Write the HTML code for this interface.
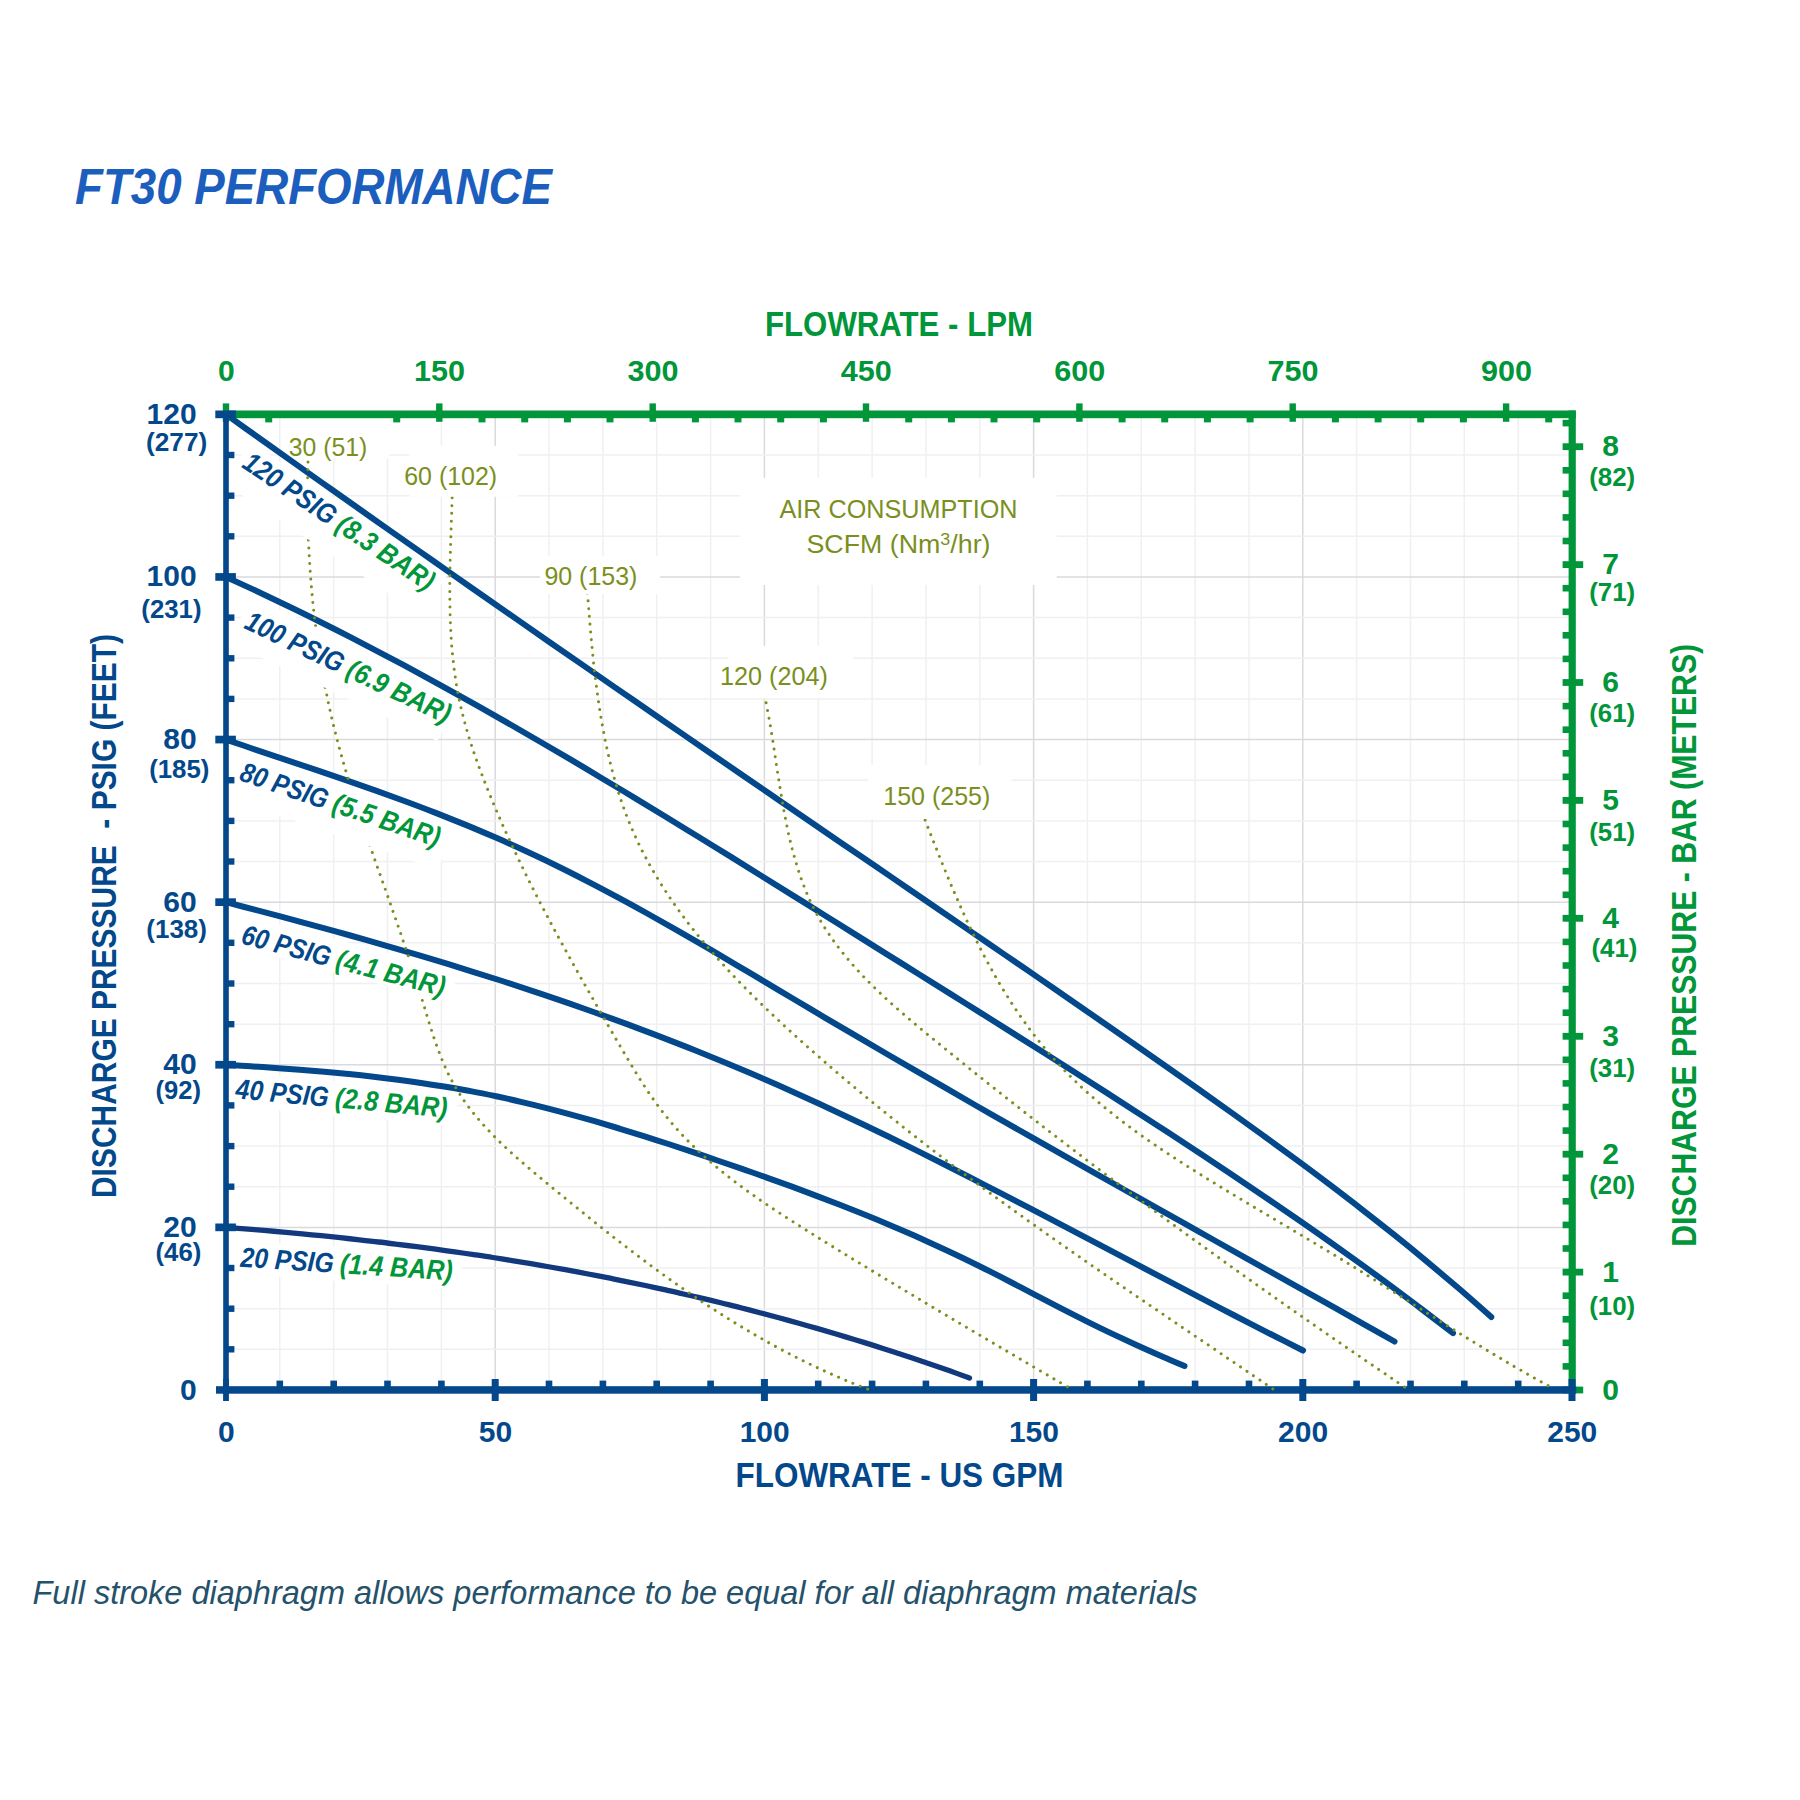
<!DOCTYPE html>
<html lang="en">
<head>
<meta charset="utf-8">
<title>FT30 Performance</title>
<style>
html,body{margin:0;padding:0;background:#fff;}
body{width:1800px;height:1800px;overflow:hidden;}
svg{display:block;font-family:'Liberation Sans', sans-serif;}
</style>
</head>
<body>
<svg width="1800" height="1800" viewBox="0 0 1800 1800">
<rect width="1800" height="1800" fill="#fff"/>
<g fill="none" stroke-width="1.5">
<line x1="279.8" y1="414.4" x2="279.8" y2="1390.0" stroke="#f0f0f2"/>
<line x1="333.7" y1="414.4" x2="333.7" y2="1390.0" stroke="#f0f0f2"/>
<line x1="387.5" y1="414.4" x2="387.5" y2="1390.0" stroke="#f0f0f2"/>
<line x1="441.4" y1="414.4" x2="441.4" y2="1390.0" stroke="#f0f0f2"/>
<line x1="495.2" y1="414.4" x2="495.2" y2="1390.0" stroke="#dadade"/>
<line x1="549.0" y1="414.4" x2="549.0" y2="1390.0" stroke="#f0f0f2"/>
<line x1="602.9" y1="414.4" x2="602.9" y2="1390.0" stroke="#f0f0f2"/>
<line x1="656.7" y1="414.4" x2="656.7" y2="1390.0" stroke="#f0f0f2"/>
<line x1="710.6" y1="414.4" x2="710.6" y2="1390.0" stroke="#f0f0f2"/>
<line x1="764.4" y1="414.4" x2="764.4" y2="1390.0" stroke="#dadade"/>
<line x1="818.2" y1="414.4" x2="818.2" y2="1390.0" stroke="#f0f0f2"/>
<line x1="872.1" y1="414.4" x2="872.1" y2="1390.0" stroke="#f0f0f2"/>
<line x1="925.9" y1="414.4" x2="925.9" y2="1390.0" stroke="#f0f0f2"/>
<line x1="979.8" y1="414.4" x2="979.8" y2="1390.0" stroke="#f0f0f2"/>
<line x1="1033.6" y1="414.4" x2="1033.6" y2="1390.0" stroke="#dadade"/>
<line x1="1087.4" y1="414.4" x2="1087.4" y2="1390.0" stroke="#f0f0f2"/>
<line x1="1141.3" y1="414.4" x2="1141.3" y2="1390.0" stroke="#f0f0f2"/>
<line x1="1195.1" y1="414.4" x2="1195.1" y2="1390.0" stroke="#f0f0f2"/>
<line x1="1249.0" y1="414.4" x2="1249.0" y2="1390.0" stroke="#f0f0f2"/>
<line x1="1302.8" y1="414.4" x2="1302.8" y2="1390.0" stroke="#dadade"/>
<line x1="1356.6" y1="414.4" x2="1356.6" y2="1390.0" stroke="#f0f0f2"/>
<line x1="1410.5" y1="414.4" x2="1410.5" y2="1390.0" stroke="#f0f0f2"/>
<line x1="1464.3" y1="414.4" x2="1464.3" y2="1390.0" stroke="#f0f0f2"/>
<line x1="1518.2" y1="414.4" x2="1518.2" y2="1390.0" stroke="#f0f0f2"/>
<line x1="226.0" y1="1349.3" x2="1572.0" y2="1349.3" stroke="#f0f0f2"/>
<line x1="226.0" y1="1308.7" x2="1572.0" y2="1308.7" stroke="#f0f0f2"/>
<line x1="226.0" y1="1268.0" x2="1572.0" y2="1268.0" stroke="#f0f0f2"/>
<line x1="226.0" y1="1227.4" x2="1572.0" y2="1227.4" stroke="#dadade"/>
<line x1="226.0" y1="1186.8" x2="1572.0" y2="1186.8" stroke="#f0f0f2"/>
<line x1="226.0" y1="1146.1" x2="1572.0" y2="1146.1" stroke="#f0f0f2"/>
<line x1="226.0" y1="1105.5" x2="1572.0" y2="1105.5" stroke="#f0f0f2"/>
<line x1="226.0" y1="1064.8" x2="1572.0" y2="1064.8" stroke="#dadade"/>
<line x1="226.0" y1="1024.2" x2="1572.0" y2="1024.2" stroke="#f0f0f2"/>
<line x1="226.0" y1="983.5" x2="1572.0" y2="983.5" stroke="#f0f0f2"/>
<line x1="226.0" y1="942.8" x2="1572.0" y2="942.8" stroke="#f0f0f2"/>
<line x1="226.0" y1="902.2" x2="1572.0" y2="902.2" stroke="#dadade"/>
<line x1="226.0" y1="861.5" x2="1572.0" y2="861.5" stroke="#f0f0f2"/>
<line x1="226.0" y1="820.9" x2="1572.0" y2="820.9" stroke="#f0f0f2"/>
<line x1="226.0" y1="780.2" x2="1572.0" y2="780.2" stroke="#f0f0f2"/>
<line x1="226.0" y1="739.6" x2="1572.0" y2="739.6" stroke="#dadade"/>
<line x1="226.0" y1="698.9" x2="1572.0" y2="698.9" stroke="#f0f0f2"/>
<line x1="226.0" y1="658.3" x2="1572.0" y2="658.3" stroke="#f0f0f2"/>
<line x1="226.0" y1="617.6" x2="1572.0" y2="617.6" stroke="#f0f0f2"/>
<line x1="226.0" y1="577.0" x2="1572.0" y2="577.0" stroke="#dadade"/>
<line x1="226.0" y1="536.3" x2="1572.0" y2="536.3" stroke="#f0f0f2"/>
<line x1="226.0" y1="495.7" x2="1572.0" y2="495.7" stroke="#f0f0f2"/>
<line x1="226.0" y1="455.0" x2="1572.0" y2="455.0" stroke="#f0f0f2"/>
</g>
<g fill="#fff">
<rect x="740.0" y="478.0" width="316.7" height="107.0"/>
<rect x="282.0" y="416.0" width="106.8" height="42.3"/>
<rect x="409.5" y="445.8" width="108.5" height="50.9"/>
<rect x="540.0" y="556.0" width="120.0" height="38.0"/>
<rect x="728.0" y="646.0" width="125.0" height="52.0"/>
<rect x="868.0" y="765.0" width="143.7" height="54.0"/>
<rect x="-6" y="-26.0" width="238.0" height="48.8" transform="translate(240.8 466.8) rotate(33.85)"/>
<rect x="-6" y="-32.0" width="230.0" height="51.0" transform="translate(243.0 627.8) rotate(25.40)"/>
<rect x="-6" y="-34.0" width="224.0" height="54.6" transform="translate(238.3 780.0) rotate(18.70)"/>
<rect x="-6" y="-28.0" width="224.0" height="32.0" transform="translate(240.0 943.3) rotate(14.70)"/>
<rect x="-6" y="-26.0" width="228.0" height="34.0" transform="translate(235.0 1098.3) rotate(5.20)"/>
<rect x="-6" y="-26.0" width="228.0" height="34.0" transform="translate(240.0 1266.7) rotate(3.70)"/>
</g>
<g fill="none" stroke-linecap="round" stroke-linejoin="round">
<path d="M226.0 414.4 C231.4 418.3 247.6 429.8 258.4 437.5 C269.3 445.2 280.1 452.9 290.9 460.6 C301.7 468.3 312.5 476.0 323.3 483.6 C334.1 491.3 345.0 498.9 355.8 506.5 C366.6 514.1 377.4 521.8 388.2 529.4 C399.0 537.0 409.8 544.6 420.7 552.1 C431.5 559.7 442.3 567.3 453.1 574.9 C463.9 582.4 474.7 590.0 485.5 597.5 C496.4 605.1 507.2 612.6 518.0 620.1 C528.8 627.6 539.6 635.1 550.4 642.7 C561.3 650.2 572.1 657.7 582.9 665.1 C593.7 672.6 604.5 680.1 615.3 687.6 C626.1 695.1 637.0 702.5 647.8 710.0 C658.6 717.5 669.4 724.9 680.2 732.4 C691.0 739.8 701.8 747.2 712.7 754.7 C723.5 762.1 734.3 769.5 745.1 777.0 C755.9 784.4 766.7 791.8 777.5 799.2 C788.4 806.6 799.2 814.0 810.0 821.4 C820.8 828.9 831.6 836.3 842.4 843.7 C853.2 851.0 864.1 858.4 874.9 865.8 C885.7 873.2 896.5 880.6 907.3 888.0 C918.1 895.4 928.9 902.8 939.8 910.2 C950.6 917.6 961.4 925.0 972.2 932.4 C983.0 939.8 993.8 947.2 1004.6 954.6 C1015.5 962.0 1026.3 969.4 1037.1 976.9 C1047.9 984.3 1058.7 991.8 1069.5 999.2 C1080.3 1006.7 1091.2 1014.2 1102.0 1021.7 C1112.8 1029.2 1123.6 1036.7 1134.4 1044.3 C1145.2 1051.8 1156.0 1059.4 1166.9 1067.0 C1177.7 1074.6 1188.5 1082.2 1199.3 1089.8 C1210.1 1097.5 1220.9 1105.1 1231.8 1112.9 C1242.6 1120.6 1253.4 1128.4 1264.2 1136.2 C1275.0 1144.0 1285.8 1151.9 1296.6 1159.9 C1307.5 1167.9 1318.3 1176.0 1329.1 1184.2 C1339.9 1192.4 1350.7 1200.6 1361.5 1209.1 C1372.3 1217.5 1383.2 1226.0 1394.0 1234.7 C1404.8 1243.3 1415.6 1252.1 1426.4 1261.1 C1437.2 1270.1 1448.0 1279.2 1458.9 1288.5 C1469.7 1297.8 1485.9 1312.2 1491.3 1317.0" stroke="#03488a" stroke-width="6.0"/>
<path d="M226.0 577.0 C231.2 579.4 247.0 586.6 257.5 591.5 C267.9 596.4 278.4 601.4 288.9 606.5 C299.4 611.5 309.9 616.7 320.4 622.0 C330.9 627.2 341.4 632.5 351.8 637.9 C362.3 643.3 372.8 648.8 383.3 654.3 C393.8 659.8 404.3 665.5 414.8 671.1 C425.3 676.8 435.7 682.5 446.2 688.3 C456.7 694.1 467.2 700.0 477.7 705.9 C488.2 711.8 498.7 717.8 509.2 723.8 C519.6 729.8 530.1 735.9 540.6 742.0 C551.1 748.1 561.6 754.2 572.1 760.4 C582.6 766.6 593.1 772.9 603.5 779.2 C614.0 785.4 624.5 791.8 635.0 798.1 C645.5 804.4 656.0 810.8 666.5 817.2 C676.9 823.6 687.4 830.1 697.9 836.5 C708.4 843.0 718.9 849.4 729.4 855.9 C739.9 862.4 750.4 868.9 760.8 875.5 C771.3 882.0 781.8 888.5 792.3 895.1 C802.8 901.6 813.3 908.2 823.8 914.7 C834.3 921.3 844.7 927.8 855.2 934.4 C865.7 940.9 876.2 947.5 886.7 954.1 C897.2 960.6 907.7 967.2 918.2 973.7 C928.6 980.3 939.1 986.8 949.6 993.4 C960.1 1000.0 970.6 1006.5 981.1 1013.1 C991.6 1019.7 1002.1 1026.3 1012.5 1032.9 C1023.0 1039.5 1033.5 1046.1 1044.0 1052.8 C1054.5 1059.4 1065.0 1066.1 1075.5 1072.8 C1085.9 1079.4 1096.4 1086.1 1106.9 1092.9 C1117.4 1099.6 1127.9 1106.4 1138.4 1113.2 C1148.9 1119.9 1159.4 1126.8 1169.8 1133.6 C1180.3 1140.5 1190.8 1147.4 1201.3 1154.3 C1211.8 1161.2 1222.3 1168.2 1232.8 1175.2 C1243.3 1182.2 1253.7 1189.3 1264.2 1196.4 C1274.7 1203.5 1285.2 1210.7 1295.7 1218.0 C1306.2 1225.2 1316.7 1232.6 1327.2 1240.0 C1337.6 1247.4 1348.1 1254.8 1358.6 1262.4 C1369.1 1270.0 1379.6 1277.6 1390.1 1285.4 C1400.6 1293.2 1411.1 1301.0 1421.5 1309.0 C1432.0 1317.0 1447.8 1329.2 1453.0 1333.2" stroke="#03488a" stroke-width="6.0"/>
<path d="M226.0 739.6 C231.0 741.3 246.0 746.4 256.0 749.8 C265.9 753.2 275.9 756.5 285.9 759.9 C295.9 763.2 305.9 766.5 315.9 769.9 C325.9 773.3 335.9 776.7 345.8 780.1 C355.8 783.6 365.8 787.1 375.8 790.6 C385.8 794.2 395.8 797.8 405.8 801.5 C415.8 805.2 425.7 809.0 435.7 812.9 C445.7 816.8 455.7 820.8 465.7 824.9 C475.7 829.0 485.7 833.3 495.7 837.6 C505.6 841.9 515.6 846.4 525.6 851.0 C535.6 855.6 545.6 860.3 555.6 865.2 C565.6 870.1 575.6 875.1 585.5 880.3 C595.5 885.4 605.5 890.7 615.5 896.1 C625.5 901.4 635.5 906.9 645.5 912.5 C655.4 918.0 665.4 923.7 675.4 929.4 C685.4 935.1 695.4 940.9 705.4 946.7 C715.4 952.5 725.4 958.4 735.3 964.3 C745.3 970.2 755.3 976.2 765.3 982.1 C775.3 988.1 785.3 994.0 795.3 1000.0 C805.3 1005.9 815.2 1011.9 825.2 1017.8 C835.2 1023.7 845.2 1029.6 855.2 1035.4 C865.2 1041.3 875.2 1047.2 885.2 1053.0 C895.1 1058.8 905.1 1064.6 915.1 1070.4 C925.1 1076.2 935.1 1082.0 945.1 1087.7 C955.1 1093.5 965.1 1099.2 975.0 1105.0 C985.0 1110.7 995.0 1116.4 1005.0 1122.1 C1015.0 1127.8 1025.0 1133.5 1035.0 1139.2 C1044.9 1144.9 1054.9 1150.5 1064.9 1156.2 C1074.9 1161.8 1084.9 1167.5 1094.9 1173.1 C1104.9 1178.8 1114.9 1184.4 1124.8 1190.0 C1134.8 1195.6 1144.8 1201.3 1154.8 1206.9 C1164.8 1212.5 1174.8 1218.1 1184.8 1223.7 C1194.8 1229.3 1204.7 1234.9 1214.7 1240.5 C1224.7 1246.1 1234.7 1251.7 1244.7 1257.3 C1254.7 1262.9 1264.7 1268.5 1274.7 1274.1 C1284.6 1279.7 1294.6 1285.3 1304.6 1290.9 C1314.6 1296.5 1324.6 1302.1 1334.6 1307.7 C1344.6 1313.3 1354.6 1318.9 1364.5 1324.6 C1374.5 1330.2 1389.5 1338.6 1394.5 1341.5" stroke="#03488a" stroke-width="6.0"/>
<path d="M226.0 902.2 C230.6 903.4 244.4 907.0 253.6 909.4 C262.8 911.8 272.0 914.2 281.2 916.7 C290.4 919.1 299.6 921.6 308.8 924.1 C318.1 926.6 327.3 929.1 336.5 931.6 C345.7 934.2 354.9 936.8 364.1 939.4 C373.3 942.0 382.5 944.6 391.7 947.3 C400.9 950.0 410.1 952.7 419.3 955.4 C428.5 958.1 437.7 960.9 446.9 963.7 C456.1 966.5 465.3 969.4 474.5 972.3 C483.7 975.1 492.9 978.1 502.2 981.0 C511.4 984.0 520.6 987.0 529.8 990.1 C539.0 993.1 548.2 996.2 557.4 999.4 C566.6 1002.5 575.8 1005.7 585.0 1009.0 C594.2 1012.2 603.4 1015.5 612.6 1018.9 C621.8 1022.2 631.0 1025.6 640.2 1029.1 C649.4 1032.5 658.6 1036.0 667.8 1039.6 C677.1 1043.2 686.3 1046.8 695.5 1050.5 C704.7 1054.2 713.9 1057.9 723.1 1061.7 C732.3 1065.5 741.5 1069.4 750.7 1073.3 C759.9 1077.3 769.1 1081.3 778.3 1085.3 C787.5 1089.4 796.7 1093.5 805.9 1097.7 C815.1 1101.9 824.3 1106.2 833.5 1110.4 C842.7 1114.7 851.9 1119.1 861.2 1123.5 C870.4 1127.9 879.6 1132.3 888.8 1136.8 C898.0 1141.3 907.2 1145.8 916.4 1150.4 C925.6 1155.0 934.8 1159.6 944.0 1164.2 C953.2 1168.9 962.4 1173.5 971.6 1178.2 C980.8 1182.9 990.0 1187.7 999.2 1192.4 C1008.4 1197.2 1017.6 1202.0 1026.8 1206.7 C1036.1 1211.5 1045.3 1216.3 1054.5 1221.2 C1063.7 1226.0 1072.9 1230.8 1082.1 1235.6 C1091.3 1240.5 1100.5 1245.3 1109.7 1250.2 C1118.9 1255.0 1128.1 1259.9 1137.3 1264.7 C1146.5 1269.6 1155.7 1274.4 1164.9 1279.2 C1174.1 1284.1 1183.3 1288.9 1192.5 1293.7 C1201.7 1298.5 1210.9 1303.3 1220.2 1308.1 C1229.4 1312.9 1238.6 1317.6 1247.8 1322.4 C1257.0 1327.1 1266.2 1331.8 1275.4 1336.5 C1284.6 1341.2 1298.4 1348.1 1303.0 1350.5" stroke="#03488a" stroke-width="6.0"/>
<path d="M226.0 1064.8 C230.1 1065.1 242.4 1065.8 250.6 1066.3 C258.8 1066.8 267.0 1067.4 275.2 1067.9 C283.3 1068.5 291.5 1069.1 299.7 1069.8 C307.9 1070.4 316.1 1071.1 324.3 1071.8 C332.5 1072.5 340.7 1073.3 348.9 1074.1 C357.1 1074.9 365.3 1075.8 373.5 1076.8 C381.7 1077.7 389.8 1078.7 398.0 1079.8 C406.2 1080.8 414.4 1081.9 422.6 1083.2 C430.8 1084.4 439.0 1085.6 447.2 1087.0 C455.4 1088.4 463.6 1089.8 471.8 1091.4 C480.0 1092.9 488.2 1094.6 496.3 1096.3 C504.5 1098.0 512.7 1099.8 520.9 1101.8 C529.1 1103.7 537.3 1105.7 545.5 1107.8 C553.7 1109.9 561.9 1112.0 570.1 1114.3 C578.3 1116.5 586.5 1118.8 594.7 1121.2 C602.8 1123.6 611.0 1126.0 619.2 1128.5 C627.4 1131.0 635.6 1133.5 643.8 1136.1 C652.0 1138.7 660.2 1141.4 668.4 1144.0 C676.6 1146.7 684.8 1149.4 693.0 1152.2 C701.2 1154.9 709.3 1157.7 717.5 1160.5 C725.7 1163.3 733.9 1166.1 742.1 1168.9 C750.3 1171.8 758.5 1174.6 766.7 1177.6 C774.9 1180.5 783.1 1183.4 791.3 1186.4 C799.5 1189.4 807.7 1192.5 815.8 1195.6 C824.0 1198.7 832.2 1201.8 840.4 1205.0 C848.6 1208.2 856.8 1211.5 865.0 1214.8 C873.2 1218.1 881.4 1221.5 889.6 1225.0 C897.8 1228.4 906.0 1232.0 914.2 1235.6 C922.3 1239.2 930.5 1242.9 938.7 1246.7 C946.9 1250.4 955.1 1254.3 963.3 1258.2 C971.5 1262.2 979.7 1266.2 987.9 1270.4 C996.1 1274.5 1004.3 1278.7 1012.5 1283.0 C1020.7 1287.2 1028.8 1291.5 1037.0 1295.8 C1045.2 1300.1 1053.4 1304.4 1061.6 1308.6 C1069.8 1312.8 1078.0 1317.0 1086.2 1321.1 C1094.4 1325.2 1102.6 1329.2 1110.8 1333.1 C1119.0 1337.0 1127.2 1340.8 1135.3 1344.5 C1143.5 1348.3 1151.7 1351.9 1159.9 1355.5 C1168.1 1359.1 1180.4 1364.2 1184.5 1366.0" stroke="#03488a" stroke-width="6.0"/>
<path d="M226.0 1227.4 C229.2 1227.6 238.7 1228.4 245.1 1228.9 C251.4 1229.4 257.8 1229.9 264.1 1230.4 C270.5 1231.0 276.8 1231.5 283.2 1232.1 C289.5 1232.7 295.9 1233.3 302.3 1233.9 C308.6 1234.5 315.0 1235.1 321.3 1235.7 C327.7 1236.4 334.0 1237.0 340.4 1237.7 C346.7 1238.4 353.1 1239.1 359.4 1239.8 C365.8 1240.5 372.2 1241.2 378.5 1242.0 C384.9 1242.7 391.2 1243.5 397.6 1244.3 C403.9 1245.1 410.3 1245.9 416.6 1246.7 C423.0 1247.5 429.4 1248.4 435.7 1249.2 C442.1 1250.1 448.4 1251.0 454.8 1251.9 C461.1 1252.8 467.5 1253.7 473.8 1254.6 C480.2 1255.6 486.5 1256.6 492.9 1257.5 C499.3 1258.5 505.6 1259.5 512.0 1260.6 C518.3 1261.6 524.7 1262.7 531.0 1263.7 C537.4 1264.8 543.7 1265.9 550.1 1267.0 C556.4 1268.1 562.8 1269.3 569.2 1270.4 C575.5 1271.6 581.9 1272.8 588.2 1274.0 C594.6 1275.2 600.9 1276.4 607.3 1277.7 C613.6 1279.0 620.0 1280.2 626.3 1281.6 C632.7 1282.9 639.1 1284.2 645.4 1285.5 C651.8 1286.9 658.1 1288.3 664.5 1289.7 C670.8 1291.1 677.2 1292.5 683.5 1294.0 C689.9 1295.4 696.2 1296.9 702.6 1298.4 C709.0 1299.9 715.3 1301.4 721.7 1303.0 C728.0 1304.6 734.4 1306.1 740.7 1307.8 C747.1 1309.4 753.4 1311.0 759.8 1312.7 C766.1 1314.3 772.5 1316.0 778.9 1317.7 C785.2 1319.5 791.6 1321.2 797.9 1323.0 C804.3 1324.8 810.6 1326.6 817.0 1328.4 C823.3 1330.2 829.7 1332.1 836.1 1334.0 C842.4 1335.9 848.8 1337.8 855.1 1339.7 C861.5 1341.7 867.8 1343.6 874.2 1345.6 C880.5 1347.6 886.9 1349.7 893.2 1351.7 C899.6 1353.8 906.0 1355.9 912.3 1358.0 C918.7 1360.2 925.0 1362.3 931.4 1364.5 C937.7 1366.7 944.1 1368.9 950.4 1371.1 C956.8 1373.4 966.3 1376.8 969.5 1378.0" stroke="#12397e" stroke-width="5.3"/>
</g>
<g fill="#009639">
<rect x="226.0" y="410.5" width="1349.8" height="7.7"/>
<rect x="1568.6" y="410.5" width="7.2" height="979.5"/>
<rect x="222.8" y="403.4" width="6.4" height="18.4"/>
<rect x="265.2" y="414.4" width="7" height="8"/>
<rect x="393.2" y="414.4" width="7" height="8"/>
<rect x="436.1" y="403.4" width="6.4" height="18.4"/>
<rect x="478.5" y="414.4" width="7" height="8"/>
<rect x="521.2" y="414.4" width="7" height="8"/>
<rect x="563.9" y="414.4" width="7" height="8"/>
<rect x="606.5" y="414.4" width="7" height="8"/>
<rect x="649.5" y="403.4" width="6.4" height="18.4"/>
<rect x="691.9" y="414.4" width="7" height="8"/>
<rect x="734.5" y="414.4" width="7" height="8"/>
<rect x="777.2" y="414.4" width="7" height="8"/>
<rect x="819.9" y="414.4" width="7" height="8"/>
<rect x="862.8" y="403.4" width="6.4" height="18.4"/>
<rect x="905.2" y="414.4" width="7" height="8"/>
<rect x="947.9" y="414.4" width="7" height="8"/>
<rect x="990.5" y="414.4" width="7" height="8"/>
<rect x="1033.2" y="414.4" width="7" height="8"/>
<rect x="1076.2" y="403.4" width="6.4" height="18.4"/>
<rect x="1118.6" y="414.4" width="7" height="8"/>
<rect x="1161.2" y="414.4" width="7" height="8"/>
<rect x="1203.9" y="414.4" width="7" height="8"/>
<rect x="1246.6" y="414.4" width="7" height="8"/>
<rect x="1289.5" y="403.4" width="6.4" height="18.4"/>
<rect x="1331.9" y="414.4" width="7" height="8"/>
<rect x="1374.6" y="414.4" width="7" height="8"/>
<rect x="1417.2" y="414.4" width="7" height="8"/>
<rect x="1459.9" y="414.4" width="7" height="8"/>
<rect x="1502.9" y="403.4" width="6.4" height="18.4"/>
<rect x="1545.2" y="414.4" width="7" height="8"/>
<rect x="1562.6" y="1386.6" width="20.6" height="6.8"/>
<rect x="1562.6" y="1363.1" width="9.4" height="6.6"/>
<rect x="1562.6" y="1339.5" width="9.4" height="6.6"/>
<rect x="1562.6" y="1316.0" width="9.4" height="6.6"/>
<rect x="1562.6" y="1292.4" width="9.4" height="6.6"/>
<rect x="1562.6" y="1268.7" width="20.6" height="6.8"/>
<rect x="1562.6" y="1245.2" width="9.4" height="6.6"/>
<rect x="1562.6" y="1221.6" width="9.4" height="6.6"/>
<rect x="1562.6" y="1198.0" width="9.4" height="6.6"/>
<rect x="1562.6" y="1174.5" width="9.4" height="6.6"/>
<rect x="1562.6" y="1150.8" width="20.6" height="6.8"/>
<rect x="1562.6" y="1127.3" width="9.4" height="6.6"/>
<rect x="1562.6" y="1103.7" width="9.4" height="6.6"/>
<rect x="1562.6" y="1080.1" width="9.4" height="6.6"/>
<rect x="1562.6" y="1056.5" width="9.4" height="6.6"/>
<rect x="1562.6" y="1032.9" width="20.6" height="6.8"/>
<rect x="1562.6" y="1009.4" width="9.4" height="6.6"/>
<rect x="1562.6" y="985.8" width="9.4" height="6.6"/>
<rect x="1562.6" y="962.2" width="9.4" height="6.6"/>
<rect x="1562.6" y="938.6" width="9.4" height="6.6"/>
<rect x="1562.6" y="914.9" width="20.6" height="6.8"/>
<rect x="1562.6" y="891.5" width="9.4" height="6.6"/>
<rect x="1562.6" y="867.9" width="9.4" height="6.6"/>
<rect x="1562.6" y="844.3" width="9.4" height="6.6"/>
<rect x="1562.6" y="820.7" width="9.4" height="6.6"/>
<rect x="1562.6" y="797.0" width="20.6" height="6.8"/>
<rect x="1562.6" y="773.5" width="9.4" height="6.6"/>
<rect x="1562.6" y="750.0" width="9.4" height="6.6"/>
<rect x="1562.6" y="726.4" width="9.4" height="6.6"/>
<rect x="1562.6" y="702.8" width="9.4" height="6.6"/>
<rect x="1562.6" y="679.1" width="20.6" height="6.8"/>
<rect x="1562.6" y="655.6" width="9.4" height="6.6"/>
<rect x="1562.6" y="632.0" width="9.4" height="6.6"/>
<rect x="1562.6" y="608.5" width="9.4" height="6.6"/>
<rect x="1562.6" y="584.9" width="9.4" height="6.6"/>
<rect x="1562.6" y="561.2" width="20.6" height="6.8"/>
<rect x="1562.6" y="537.7" width="9.4" height="6.6"/>
<rect x="1562.6" y="514.1" width="9.4" height="6.6"/>
<rect x="1562.6" y="490.5" width="9.4" height="6.6"/>
<rect x="1562.6" y="467.0" width="9.4" height="6.6"/>
<rect x="1562.6" y="443.3" width="20.6" height="6.8"/>
<rect x="1562.6" y="419.8" width="9.4" height="6.6"/>
</g>
<g fill="#03488a">
<rect x="223.2" y="410.8" width="5.6" height="982.8"/>
<rect x="216.0" y="1386.2" width="1360.2" height="7.5"/>
<rect x="226.0" y="1346.1" width="8.4" height="6.4"/>
<rect x="226.0" y="1305.5" width="8.4" height="6.4"/>
<rect x="226.0" y="1264.8" width="8.4" height="6.4"/>
<rect x="215.3" y="1223.5" width="20.6" height="7.7"/>
<rect x="226.0" y="1183.5" width="8.4" height="6.4"/>
<rect x="226.0" y="1142.9" width="8.4" height="6.4"/>
<rect x="226.0" y="1102.2" width="8.4" height="6.4"/>
<rect x="215.3" y="1060.9" width="20.6" height="7.7"/>
<rect x="226.0" y="1021.0" width="8.4" height="6.4"/>
<rect x="226.0" y="980.3" width="8.4" height="6.4"/>
<rect x="226.0" y="939.6" width="8.4" height="6.4"/>
<rect x="215.3" y="898.3" width="20.6" height="7.7"/>
<rect x="226.0" y="858.3" width="8.4" height="6.4"/>
<rect x="226.0" y="817.7" width="8.4" height="6.4"/>
<rect x="226.0" y="777.0" width="8.4" height="6.4"/>
<rect x="215.3" y="735.7" width="20.6" height="7.7"/>
<rect x="226.0" y="695.7" width="8.4" height="6.4"/>
<rect x="226.0" y="655.1" width="8.4" height="6.4"/>
<rect x="226.0" y="614.4" width="8.4" height="6.4"/>
<rect x="215.3" y="573.1" width="20.6" height="7.7"/>
<rect x="226.0" y="533.1" width="8.4" height="6.4"/>
<rect x="226.0" y="492.5" width="8.4" height="6.4"/>
<rect x="226.0" y="451.8" width="8.4" height="6.4"/>
<rect x="215.3" y="410.5" width="20.6" height="7.7"/>
<rect x="223.1" y="1379.0" width="5.8" height="22"/>
<rect x="276.5" y="1380.6" width="6.6" height="9.4"/>
<rect x="330.4" y="1380.6" width="6.6" height="9.4"/>
<rect x="384.2" y="1380.6" width="6.6" height="9.4"/>
<rect x="438.1" y="1380.6" width="6.6" height="9.4"/>
<rect x="491.7" y="1379.0" width="7" height="22"/>
<rect x="545.7" y="1380.6" width="6.6" height="9.4"/>
<rect x="599.6" y="1380.6" width="6.6" height="9.4"/>
<rect x="653.4" y="1380.6" width="6.6" height="9.4"/>
<rect x="707.3" y="1380.6" width="6.6" height="9.4"/>
<rect x="760.9" y="1379.0" width="7" height="22"/>
<rect x="814.9" y="1380.6" width="6.6" height="9.4"/>
<rect x="868.8" y="1380.6" width="6.6" height="9.4"/>
<rect x="922.6" y="1380.6" width="6.6" height="9.4"/>
<rect x="976.5" y="1380.6" width="6.6" height="9.4"/>
<rect x="1030.1" y="1379.0" width="7" height="22"/>
<rect x="1084.1" y="1380.6" width="6.6" height="9.4"/>
<rect x="1138.0" y="1380.6" width="6.6" height="9.4"/>
<rect x="1191.8" y="1380.6" width="6.6" height="9.4"/>
<rect x="1245.7" y="1380.6" width="6.6" height="9.4"/>
<rect x="1299.3" y="1379.0" width="7" height="22"/>
<rect x="1353.3" y="1380.6" width="6.6" height="9.4"/>
<rect x="1407.2" y="1380.6" width="6.6" height="9.4"/>
<rect x="1461.0" y="1380.6" width="6.6" height="9.4"/>
<rect x="1514.9" y="1380.6" width="6.6" height="9.4"/>
<rect x="1568.5" y="1379.0" width="7" height="22"/>
</g>
<mask id="lm" maskUnits="userSpaceOnUse" x="0" y="0" width="1800" height="1800"><rect width="1800" height="1800" fill="#fff"/><g fill="#000">
<rect x="740.0" y="478.0" width="316.7" height="107.0"/>
<rect x="282.0" y="416.0" width="106.8" height="42.3"/>
<rect x="409.5" y="445.8" width="108.5" height="50.9"/>
<rect x="540.0" y="556.0" width="120.0" height="38.0"/>
<rect x="728.0" y="646.0" width="125.0" height="52.0"/>
<rect x="868.0" y="765.0" width="143.7" height="54.0"/>
<rect x="-6" y="-26.0" width="238.0" height="48.8" transform="translate(240.8 466.8) rotate(33.85)"/>
<rect x="-6" y="-32.0" width="230.0" height="51.0" transform="translate(243.0 627.8) rotate(25.40)"/>
<rect x="-6" y="-34.0" width="224.0" height="54.6" transform="translate(238.3 780.0) rotate(18.70)"/>
<rect x="-6" y="-28.0" width="224.0" height="32.0" transform="translate(240.0 943.3) rotate(14.70)"/>
<rect x="-6" y="-26.0" width="228.0" height="34.0" transform="translate(235.0 1098.3) rotate(5.20)"/>
<rect x="-6" y="-26.0" width="228.0" height="34.0" transform="translate(240.0 1266.7) rotate(3.70)"/>
</g></mask>
<g fill="none" stroke="#7a8f1e" stroke-width="3" stroke-dasharray="0.01 7.8" stroke-linecap="round" mask="url(#lm)">
<path d="M308.0 462.0 C308.0 465.3 307.7 475.1 307.6 481.7 C307.6 488.3 307.6 494.9 307.6 501.5 C307.6 508.1 307.7 514.7 307.9 521.3 C308.0 527.9 308.3 534.5 308.5 541.1 C308.8 547.7 309.1 554.3 309.5 560.9 C309.9 567.5 310.4 574.1 310.9 580.7 C311.4 587.3 312.0 593.8 312.6 600.4 C313.3 607.0 314.0 613.5 314.8 620.1 C315.6 626.6 316.4 633.2 317.3 639.7 C318.2 646.2 319.2 652.7 320.3 659.2 C321.3 665.7 322.4 672.2 323.6 678.7 C324.8 685.2 326.1 691.6 327.4 698.1 C328.7 704.5 330.2 710.9 331.6 717.3 C333.1 723.7 334.7 730.1 336.3 736.5 C337.9 742.8 339.6 749.2 341.4 755.5 C343.1 761.8 345.0 768.1 346.8 774.4 C348.7 780.7 350.6 787.0 352.6 793.3 C354.6 799.6 356.6 805.8 358.6 812.1 C360.7 818.3 362.8 824.6 364.9 830.8 C367.0 837.1 369.1 843.3 371.3 849.5 C373.4 855.8 375.6 862.0 377.8 868.2 C380.0 874.4 382.2 880.7 384.4 886.9 C386.6 893.1 388.8 899.3 391.0 905.6 C393.1 911.8 395.3 918.1 397.5 924.3 C399.7 930.6 401.8 936.8 403.9 943.1 C406.1 949.4 408.2 955.6 410.2 961.9 C412.3 968.2 414.3 974.5 416.3 980.9 C418.3 987.2 420.2 993.5 422.2 999.9 C424.1 1006.2 426.0 1012.6 427.9 1018.9 C429.9 1025.2 431.8 1031.5 433.9 1037.7 C436.1 1043.9 438.2 1050.1 440.6 1056.1 C443.0 1062.1 445.5 1068.1 448.4 1073.9 C451.2 1079.6 454.2 1085.3 457.6 1090.8 C460.9 1096.2 464.6 1101.5 468.4 1106.7 C472.3 1111.9 476.4 1116.9 480.7 1121.8 C485.0 1126.7 489.5 1131.5 494.1 1136.2 C498.7 1140.9 503.5 1145.5 508.4 1150.0 C513.3 1154.6 518.3 1159.0 523.4 1163.4 C528.4 1167.8 533.6 1172.1 538.7 1176.4 C543.9 1180.7 549.1 1185.0 554.2 1189.3 C559.4 1193.5 564.6 1197.8 569.8 1202.0 C574.9 1206.2 580.1 1210.4 585.3 1214.6 C590.5 1218.8 595.6 1223.0 600.8 1227.1 C606.0 1231.2 611.2 1235.3 616.4 1239.4 C621.6 1243.4 626.9 1247.5 632.1 1251.5 C637.3 1255.5 642.6 1259.4 647.9 1263.4 C653.1 1267.3 658.4 1271.2 663.7 1275.0 C669.0 1278.9 674.4 1282.7 679.7 1286.4 C685.1 1290.2 690.5 1293.9 695.9 1297.6 C701.3 1301.3 706.7 1304.9 712.2 1308.5 C717.7 1312.0 723.2 1315.5 728.7 1319.0 C734.3 1322.5 739.9 1325.9 745.5 1329.2 C751.1 1332.6 756.8 1335.9 762.5 1339.1 C768.2 1342.4 773.9 1345.5 779.7 1348.7 C785.5 1351.8 791.3 1354.8 797.2 1357.8 C803.1 1360.8 809.0 1363.7 815.0 1366.5 C821.0 1369.4 827.0 1372.1 833.1 1374.8 C839.2 1377.5 845.3 1380.2 851.5 1382.7 C857.7 1385.3 867.2 1388.9 870.3 1390.1"/>
<path d="M452.4 489.9 C452.3 493.2 452.0 503.0 451.8 509.6 C451.6 516.2 451.3 522.9 451.1 529.5 C450.9 536.1 450.7 542.8 450.5 549.4 C450.3 556.1 450.1 562.8 450.0 569.4 C449.9 576.1 449.8 582.8 449.8 589.5 C449.8 596.1 449.8 602.8 450.0 609.5 C450.1 616.1 450.3 622.8 450.7 629.4 C451.0 636.0 451.4 642.7 452.0 649.3 C452.6 655.8 453.3 662.4 454.1 669.0 C455.0 675.5 455.9 682.0 457.1 688.5 C458.2 694.9 459.6 701.4 461.0 707.8 C462.5 714.2 464.2 720.5 465.9 726.9 C467.7 733.2 469.6 739.5 471.6 745.7 C473.7 752.0 475.8 758.2 478.1 764.4 C480.3 770.6 482.6 776.8 485.1 782.9 C487.5 789.1 490.0 795.2 492.5 801.3 C495.0 807.4 497.6 813.5 500.3 819.5 C502.9 825.6 505.6 831.6 508.4 837.6 C511.1 843.6 513.9 849.6 516.8 855.6 C519.6 861.6 522.5 867.5 525.4 873.5 C528.3 879.4 531.3 885.4 534.3 891.3 C537.3 897.2 540.3 903.1 543.4 908.9 C546.5 914.8 549.6 920.7 552.7 926.5 C555.8 932.4 559.0 938.2 562.2 944.1 C565.4 949.9 568.6 955.7 571.8 961.5 C575.0 967.3 578.3 973.1 581.5 978.9 C584.8 984.7 588.1 990.5 591.4 996.3 C594.7 1002.0 598.0 1007.8 601.3 1013.6 C604.6 1019.3 607.9 1025.1 611.3 1030.8 C614.6 1036.6 617.9 1042.4 621.3 1048.1 C624.6 1053.8 628.0 1059.6 631.4 1065.2 C634.8 1070.9 638.3 1076.6 641.8 1082.1 C645.4 1087.7 649.0 1093.2 652.8 1098.5 C656.6 1103.9 660.4 1109.2 664.5 1114.3 C668.5 1119.4 672.7 1124.4 677.0 1129.2 C681.4 1134.1 685.9 1138.8 690.5 1143.4 C695.1 1148.0 699.8 1152.4 704.7 1156.8 C709.6 1161.2 714.5 1165.4 719.6 1169.6 C724.7 1173.8 729.8 1177.9 735.1 1181.9 C740.3 1185.9 745.7 1189.8 751.1 1193.6 C756.4 1197.5 761.9 1201.2 767.4 1205.0 C772.9 1208.7 778.5 1212.4 784.1 1216.0 C789.7 1219.7 795.3 1223.2 800.9 1226.8 C806.6 1230.4 812.2 1233.9 817.9 1237.5 C823.6 1241.0 829.2 1244.5 834.9 1248.0 C840.6 1251.5 846.2 1255.0 851.9 1258.5 C857.6 1261.9 863.2 1265.4 868.9 1268.8 C874.6 1272.3 880.2 1275.7 885.9 1279.2 C891.6 1282.6 897.3 1286.0 902.9 1289.4 C908.6 1292.8 914.3 1296.2 920.0 1299.6 C925.6 1303.0 931.3 1306.4 937.0 1309.8 C942.7 1313.2 948.4 1316.6 954.1 1320.0 C959.7 1323.3 965.4 1326.7 971.1 1330.1 C976.8 1333.4 982.5 1336.8 988.2 1340.1 C993.9 1343.5 999.6 1346.9 1005.3 1350.2 C1011.0 1353.6 1016.7 1356.9 1022.3 1360.3 C1028.0 1363.6 1033.7 1367.0 1039.4 1370.4 C1045.2 1373.7 1050.9 1377.1 1056.6 1380.4 C1062.3 1383.8 1070.8 1388.8 1073.7 1390.5"/>
<path d="M587.5 593.0 C587.7 596.0 588.4 605.1 588.9 611.1 C589.4 617.2 589.9 623.4 590.4 629.6 C590.9 635.7 591.5 641.9 592.1 648.2 C592.7 654.4 593.3 660.6 594.0 666.9 C594.7 673.1 595.5 679.4 596.3 685.7 C597.1 692.0 598.0 698.2 598.9 704.5 C599.9 710.8 600.9 717.0 602.0 723.3 C603.1 729.5 604.3 735.7 605.5 741.9 C606.8 748.1 608.2 754.3 609.7 760.4 C611.1 766.5 612.7 772.6 614.4 778.6 C616.1 784.7 617.9 790.7 619.8 796.6 C621.8 802.5 623.8 808.4 626.0 814.2 C628.2 820.0 630.6 825.7 633.0 831.3 C635.5 837.0 638.1 842.6 640.8 848.1 C643.6 853.6 646.4 859.0 649.4 864.4 C652.4 869.8 655.5 875.1 658.7 880.3 C661.9 885.6 665.3 890.8 668.7 895.9 C672.1 901.0 675.6 906.1 679.3 911.1 C682.9 916.1 686.6 921.0 690.4 925.9 C694.2 930.8 698.1 935.6 702.1 940.4 C706.0 945.2 710.1 950.0 714.2 954.7 C718.3 959.3 722.5 964.0 726.8 968.6 C731.0 973.2 735.3 977.7 739.7 982.3 C744.1 986.8 748.5 991.3 752.9 995.7 C757.4 1000.1 761.9 1004.5 766.4 1008.9 C771.0 1013.3 775.6 1017.6 780.2 1021.9 C784.8 1026.2 789.4 1030.4 794.1 1034.7 C798.7 1038.9 803.4 1043.1 808.1 1047.3 C812.8 1051.5 817.5 1055.6 822.3 1059.8 C827.0 1063.9 831.7 1068.0 836.5 1072.1 C841.2 1076.2 846.0 1080.2 850.8 1084.3 C855.6 1088.3 860.4 1092.3 865.2 1096.3 C870.0 1100.3 874.9 1104.2 879.7 1108.2 C884.5 1112.1 889.4 1116.0 894.3 1119.9 C899.1 1123.8 904.0 1127.7 908.9 1131.6 C913.8 1135.4 918.7 1139.3 923.7 1143.1 C928.6 1146.9 933.5 1150.7 938.5 1154.5 C943.4 1158.3 948.4 1162.1 953.3 1165.8 C958.3 1169.6 963.3 1173.3 968.3 1177.0 C973.3 1180.8 978.3 1184.5 983.3 1188.2 C988.3 1191.9 993.3 1195.5 998.3 1199.2 C1003.4 1202.9 1008.4 1206.5 1013.4 1210.2 C1018.5 1213.8 1023.6 1217.4 1028.6 1221.1 C1033.7 1224.7 1038.8 1228.3 1043.8 1231.9 C1048.9 1235.5 1054.0 1239.1 1059.1 1242.7 C1064.2 1246.2 1069.3 1249.8 1074.4 1253.4 C1079.5 1256.9 1084.6 1260.5 1089.7 1264.1 C1094.9 1267.6 1100.0 1271.1 1105.1 1274.7 C1110.2 1278.2 1115.4 1281.8 1120.5 1285.3 C1125.7 1288.8 1130.8 1292.3 1136.0 1295.9 C1141.1 1299.4 1146.3 1302.9 1151.4 1306.4 C1156.6 1309.9 1161.8 1313.4 1166.9 1317.0 C1172.1 1320.5 1177.3 1324.0 1182.4 1327.5 C1187.6 1331.0 1192.8 1334.5 1197.9 1338.0 C1203.1 1341.5 1208.3 1345.0 1213.5 1348.5 C1218.7 1352.1 1223.8 1355.6 1229.0 1359.1 C1234.2 1362.6 1239.4 1366.1 1244.6 1369.7 C1249.7 1373.2 1254.9 1376.7 1260.1 1380.2 C1265.3 1383.8 1273.1 1389.1 1275.7 1390.9"/>
<path d="M766.1 702.8 C766.6 705.4 768.1 713.3 769.1 718.6 C770.0 723.9 770.9 729.3 771.8 734.7 C772.7 740.2 773.5 745.7 774.4 751.2 C775.2 756.7 776.0 762.3 776.9 767.9 C777.7 773.5 778.6 779.1 779.5 784.7 C780.4 790.3 781.3 795.9 782.3 801.5 C783.3 807.1 784.3 812.8 785.4 818.3 C786.4 823.9 787.6 829.5 788.8 835.0 C790.1 840.5 791.4 846.0 792.8 851.4 C794.3 856.8 795.8 862.2 797.5 867.5 C799.1 872.8 800.9 878.0 802.8 883.2 C804.7 888.3 806.8 893.4 809.0 898.4 C811.2 903.3 813.6 908.2 816.2 913.0 C818.7 917.7 821.4 922.4 824.3 927.0 C827.1 931.5 830.2 936.0 833.3 940.4 C836.4 944.8 839.7 949.1 843.1 953.3 C846.5 957.6 850.0 961.7 853.6 965.8 C857.3 969.9 861.0 973.9 864.8 977.9 C868.6 981.8 872.5 985.7 876.5 989.6 C880.4 993.4 884.5 997.2 888.6 1001.0 C892.7 1004.7 896.9 1008.4 901.1 1012.1 C905.3 1015.8 909.6 1019.4 913.9 1023.0 C918.1 1026.6 922.5 1030.2 926.8 1033.8 C931.1 1037.4 935.5 1040.9 939.8 1044.5 C944.2 1048.0 948.5 1051.6 952.9 1055.1 C957.2 1058.6 961.6 1062.1 965.9 1065.7 C970.3 1069.2 974.6 1072.7 979.0 1076.2 C983.4 1079.6 987.7 1083.1 992.1 1086.6 C996.5 1090.1 1000.9 1093.5 1005.2 1097.0 C1009.6 1100.4 1014.0 1103.9 1018.4 1107.3 C1022.7 1110.8 1027.1 1114.2 1031.5 1117.6 C1035.9 1121.0 1040.3 1124.4 1044.7 1127.9 C1049.1 1131.3 1053.5 1134.7 1057.9 1138.0 C1062.3 1141.4 1066.7 1144.8 1071.1 1148.2 C1075.5 1151.6 1079.9 1154.9 1084.3 1158.3 C1088.7 1161.6 1093.1 1165.0 1097.6 1168.3 C1102.0 1171.7 1106.4 1175.0 1110.8 1178.3 C1115.2 1181.7 1119.7 1185.0 1124.1 1188.3 C1128.6 1191.6 1133.0 1194.9 1137.4 1198.2 C1141.9 1201.5 1146.3 1204.8 1150.8 1208.1 C1155.2 1211.4 1159.7 1214.7 1164.1 1218.0 C1168.6 1221.3 1173.1 1224.5 1177.5 1227.8 C1182.0 1231.1 1186.5 1234.3 1190.9 1237.6 C1195.4 1240.8 1199.9 1244.1 1204.4 1247.3 C1208.9 1250.6 1213.4 1253.8 1217.9 1257.0 C1222.3 1260.3 1226.8 1263.5 1231.3 1266.7 C1235.9 1269.9 1240.4 1273.2 1244.9 1276.4 C1249.4 1279.6 1253.9 1282.8 1258.4 1286.0 C1262.9 1289.2 1267.5 1292.4 1272.0 1295.6 C1276.5 1298.8 1281.1 1302.0 1285.6 1305.2 C1290.2 1308.3 1294.7 1311.5 1299.3 1314.7 C1303.8 1317.9 1308.4 1321.1 1312.9 1324.2 C1317.5 1327.4 1322.1 1330.6 1326.6 1333.7 C1331.2 1336.9 1335.8 1340.1 1340.4 1343.2 C1344.9 1346.4 1349.5 1349.5 1354.1 1352.7 C1358.7 1355.8 1363.3 1359.0 1367.9 1362.1 C1372.5 1365.3 1377.1 1368.4 1381.8 1371.5 C1386.4 1374.7 1391.0 1377.8 1395.6 1381.0 C1400.3 1384.1 1407.2 1388.8 1409.5 1390.4"/>
<path d="M925.1 820.1 C925.9 822.4 928.6 829.1 930.4 833.7 C932.2 838.2 933.9 842.7 935.8 847.3 C937.6 851.8 939.4 856.4 941.2 860.9 C943.1 865.5 945.0 870.1 946.8 874.6 C948.7 879.2 950.6 883.8 952.6 888.4 C954.5 892.9 956.5 897.5 958.5 902.0 C960.5 906.6 962.5 911.1 964.6 915.7 C966.7 920.2 968.8 924.7 970.9 929.2 C973.0 933.7 975.2 938.2 977.4 942.6 C979.7 947.1 981.9 951.5 984.2 955.9 C986.5 960.3 988.9 964.7 991.3 969.0 C993.7 973.4 996.1 977.7 998.6 982.0 C1001.1 986.2 1003.7 990.5 1006.3 994.7 C1008.9 998.9 1011.5 1003.0 1014.2 1007.1 C1017.0 1011.2 1019.7 1015.3 1022.6 1019.3 C1025.4 1023.3 1028.3 1027.3 1031.2 1031.2 C1034.2 1035.1 1037.2 1039.0 1040.3 1042.8 C1043.3 1046.6 1046.5 1050.4 1049.7 1054.1 C1052.9 1057.8 1056.1 1061.4 1059.5 1065.0 C1062.8 1068.6 1066.2 1072.1 1069.6 1075.5 C1073.0 1079.0 1076.5 1082.4 1080.1 1085.8 C1083.6 1089.1 1087.2 1092.4 1090.9 1095.7 C1094.6 1098.9 1098.3 1102.1 1102.0 1105.3 C1105.8 1108.4 1109.6 1111.5 1113.5 1114.6 C1117.3 1117.6 1121.2 1120.6 1125.1 1123.6 C1129.1 1126.5 1133.0 1129.5 1137.0 1132.4 C1141.0 1135.3 1145.1 1138.1 1149.1 1140.9 C1153.2 1143.8 1157.3 1146.5 1161.4 1149.3 C1165.5 1152.1 1169.7 1154.8 1173.8 1157.5 C1178.0 1160.2 1182.1 1162.9 1186.3 1165.6 C1190.5 1168.2 1194.7 1170.9 1198.9 1173.5 C1203.1 1176.2 1207.3 1178.8 1211.6 1181.4 C1215.8 1184.0 1220.0 1186.6 1224.3 1189.2 C1228.5 1191.7 1232.7 1194.3 1237.0 1196.9 C1241.2 1199.4 1245.5 1202.0 1249.7 1204.5 C1254.0 1207.1 1258.3 1209.6 1262.5 1212.2 C1266.8 1214.7 1271.0 1217.2 1275.3 1219.7 C1279.6 1222.3 1283.8 1224.8 1288.1 1227.3 C1292.3 1229.9 1296.6 1232.4 1300.8 1234.9 C1305.1 1237.5 1309.3 1240.0 1313.6 1242.5 C1317.8 1245.1 1322.1 1247.6 1326.3 1250.2 C1330.5 1252.7 1334.8 1255.3 1339.0 1257.9 C1343.2 1260.4 1347.4 1263.0 1351.6 1265.6 C1355.8 1268.2 1360.0 1270.8 1364.2 1273.4 C1368.4 1276.0 1372.5 1278.6 1376.7 1281.3 C1380.9 1283.9 1385.1 1286.5 1389.2 1289.1 C1393.4 1291.8 1397.6 1294.4 1401.7 1297.0 C1405.9 1299.6 1410.1 1302.3 1414.2 1304.9 C1418.4 1307.5 1422.6 1310.2 1426.7 1312.8 C1430.9 1315.4 1435.1 1318.0 1439.2 1320.7 C1443.4 1323.3 1447.6 1325.9 1451.8 1328.5 C1455.9 1331.1 1460.1 1333.7 1464.3 1336.3 C1468.5 1338.9 1472.7 1341.5 1476.9 1344.0 C1481.1 1346.6 1485.3 1349.2 1489.5 1351.7 C1493.8 1354.3 1498.0 1356.8 1502.2 1359.3 C1506.5 1361.9 1510.7 1364.4 1515.0 1366.9 C1519.3 1369.3 1523.6 1371.8 1527.8 1374.3 C1532.1 1376.7 1536.4 1379.2 1540.8 1381.6 C1545.1 1384.0 1551.6 1387.6 1553.8 1388.8"/>
</g>
<text x="75.0" y="204.3" font-size="50.3" fill="#1b5ebd" text-anchor="start" font-weight="bold" font-style="italic" textLength="477.0" lengthAdjust="spacingAndGlyphs">FT30 PERFORMANCE</text>
<text x="32.5" y="1604.3" font-size="33.0" fill="#25516b" text-anchor="start" font-weight="normal" font-style="italic" textLength="1165.0" lengthAdjust="spacingAndGlyphs">Full stroke diaphragm allows performance to be equal for all diaphragm materials</text>
<text x="899.0" y="336.2" font-size="34.2" fill="#009639" text-anchor="middle" font-weight="bold" font-style="normal" textLength="268.0" lengthAdjust="spacingAndGlyphs">FLOWRATE - LPM</text>
<text x="899.5" y="1486.6" font-size="34.2" fill="#03488a" text-anchor="middle" font-weight="bold" font-style="normal" textLength="328.0" lengthAdjust="spacingAndGlyphs">FLOWRATE - US GPM</text>
<text x="0.0" y="0.0" font-size="34.6" fill="#03488a" text-anchor="middle" font-weight="bold" font-style="normal" textLength="564.0" lengthAdjust="spacingAndGlyphs" transform="translate(116 916) rotate(-90)">DISCHARGE PRESSURE&#160; - PSIG (FEET)</text>
<text x="0.0" y="0.0" font-size="34.6" fill="#009639" text-anchor="middle" font-weight="bold" font-style="normal" textLength="603.0" lengthAdjust="spacingAndGlyphs" transform="translate(1696 945.3) rotate(-90)">DISCHARGE PRESSURE - BAR (METERS)</text>
<text x="196.6" y="423.8" font-size="30.0" fill="#03488a" text-anchor="end" font-weight="bold" font-style="normal" textLength="50.0" lengthAdjust="spacingAndGlyphs">120</text>
<text x="176.6" y="450.7" font-size="26.2" fill="#03488a" text-anchor="middle" font-weight="bold" font-style="normal" textLength="61.2" lengthAdjust="spacingAndGlyphs">(277)</text>
<text x="196.6" y="586.4" font-size="30.0" fill="#03488a" text-anchor="end" font-weight="bold" font-style="normal" textLength="50.0" lengthAdjust="spacingAndGlyphs">100</text>
<text x="171.4" y="618.0" font-size="26.2" fill="#03488a" text-anchor="middle" font-weight="bold" font-style="normal" textLength="60.2" lengthAdjust="spacingAndGlyphs">(231)</text>
<text x="196.6" y="749.0" font-size="30.0" fill="#03488a" text-anchor="end" font-weight="bold" font-style="normal" textLength="33.4" lengthAdjust="spacingAndGlyphs">80</text>
<text x="179.3" y="778.0" font-size="26.2" fill="#03488a" text-anchor="middle" font-weight="bold" font-style="normal" textLength="60.2" lengthAdjust="spacingAndGlyphs">(185)</text>
<text x="196.6" y="911.6" font-size="30.0" fill="#03488a" text-anchor="end" font-weight="bold" font-style="normal" textLength="33.4" lengthAdjust="spacingAndGlyphs">60</text>
<text x="176.6" y="937.9" font-size="26.2" fill="#03488a" text-anchor="middle" font-weight="bold" font-style="normal" textLength="60.6" lengthAdjust="spacingAndGlyphs">(138)</text>
<text x="196.6" y="1074.2" font-size="30.0" fill="#03488a" text-anchor="end" font-weight="bold" font-style="normal" textLength="33.4" lengthAdjust="spacingAndGlyphs">40</text>
<text x="178.3" y="1098.8" font-size="26.2" fill="#03488a" text-anchor="middle" font-weight="bold" font-style="normal" textLength="45.5" lengthAdjust="spacingAndGlyphs">(92)</text>
<text x="196.6" y="1236.8" font-size="30.0" fill="#03488a" text-anchor="end" font-weight="bold" font-style="normal" textLength="33.4" lengthAdjust="spacingAndGlyphs">20</text>
<text x="178.4" y="1261.1" font-size="26.2" fill="#03488a" text-anchor="middle" font-weight="bold" font-style="normal" textLength="45.8" lengthAdjust="spacingAndGlyphs">(46)</text>
<text x="196.6" y="1400.0" font-size="30.0" fill="#03488a" text-anchor="end" font-weight="bold" font-style="normal" textLength="16.7" lengthAdjust="spacingAndGlyphs">0</text>
<text x="226.3" y="1442.1" font-size="30.0" fill="#03488a" text-anchor="middle" font-weight="bold" font-style="normal" textLength="16.7" lengthAdjust="spacingAndGlyphs">0</text>
<text x="495.5" y="1442.1" font-size="30.0" fill="#03488a" text-anchor="middle" font-weight="bold" font-style="normal" textLength="33.4" lengthAdjust="spacingAndGlyphs">50</text>
<text x="764.7" y="1442.1" font-size="30.0" fill="#03488a" text-anchor="middle" font-weight="bold" font-style="normal" textLength="50.0" lengthAdjust="spacingAndGlyphs">100</text>
<text x="1033.9" y="1442.1" font-size="30.0" fill="#03488a" text-anchor="middle" font-weight="bold" font-style="normal" textLength="50.0" lengthAdjust="spacingAndGlyphs">150</text>
<text x="1303.1" y="1442.1" font-size="30.0" fill="#03488a" text-anchor="middle" font-weight="bold" font-style="normal" textLength="50.0" lengthAdjust="spacingAndGlyphs">200</text>
<text x="1572.3" y="1442.1" font-size="30.0" fill="#03488a" text-anchor="middle" font-weight="bold" font-style="normal" textLength="50.0" lengthAdjust="spacingAndGlyphs">250</text>
<text x="226.3" y="381.2" font-size="30.0" fill="#009639" text-anchor="middle" font-weight="bold" font-style="normal" textLength="16.7" lengthAdjust="spacingAndGlyphs">0</text>
<text x="439.6" y="381.2" font-size="30.0" fill="#009639" text-anchor="middle" font-weight="bold" font-style="normal" textLength="51.0" lengthAdjust="spacingAndGlyphs">150</text>
<text x="653.0" y="381.2" font-size="30.0" fill="#009639" text-anchor="middle" font-weight="bold" font-style="normal" textLength="51.0" lengthAdjust="spacingAndGlyphs">300</text>
<text x="866.3" y="381.2" font-size="30.0" fill="#009639" text-anchor="middle" font-weight="bold" font-style="normal" textLength="51.0" lengthAdjust="spacingAndGlyphs">450</text>
<text x="1079.7" y="381.2" font-size="30.0" fill="#009639" text-anchor="middle" font-weight="bold" font-style="normal" textLength="51.0" lengthAdjust="spacingAndGlyphs">600</text>
<text x="1293.0" y="381.2" font-size="30.0" fill="#009639" text-anchor="middle" font-weight="bold" font-style="normal" textLength="51.0" lengthAdjust="spacingAndGlyphs">750</text>
<text x="1506.4" y="381.2" font-size="30.0" fill="#009639" text-anchor="middle" font-weight="bold" font-style="normal" textLength="51.0" lengthAdjust="spacingAndGlyphs">900</text>
<text x="1610.6" y="1399.5" font-size="30.0" fill="#009639" text-anchor="middle" font-weight="bold" font-style="normal" textLength="16.7" lengthAdjust="spacingAndGlyphs">0</text>
<text x="1610.6" y="1281.6" font-size="30.0" fill="#009639" text-anchor="middle" font-weight="bold" font-style="normal" textLength="16.7" lengthAdjust="spacingAndGlyphs">1</text>
<text x="1612.2" y="1314.6" font-size="26.2" fill="#009639" text-anchor="middle" font-weight="bold" font-style="normal" textLength="46.0" lengthAdjust="spacingAndGlyphs">(10)</text>
<text x="1610.6" y="1163.7" font-size="30.0" fill="#009639" text-anchor="middle" font-weight="bold" font-style="normal" textLength="16.7" lengthAdjust="spacingAndGlyphs">2</text>
<text x="1612.2" y="1194.2" font-size="26.2" fill="#009639" text-anchor="middle" font-weight="bold" font-style="normal" textLength="46.0" lengthAdjust="spacingAndGlyphs">(20)</text>
<text x="1610.6" y="1045.8" font-size="30.0" fill="#009639" text-anchor="middle" font-weight="bold" font-style="normal" textLength="16.7" lengthAdjust="spacingAndGlyphs">3</text>
<text x="1612.2" y="1076.6" font-size="26.2" fill="#009639" text-anchor="middle" font-weight="bold" font-style="normal" textLength="46.0" lengthAdjust="spacingAndGlyphs">(31)</text>
<text x="1610.6" y="927.8" font-size="30.0" fill="#009639" text-anchor="middle" font-weight="bold" font-style="normal" textLength="16.7" lengthAdjust="spacingAndGlyphs">4</text>
<text x="1614.4" y="957.3" font-size="26.2" fill="#009639" text-anchor="middle" font-weight="bold" font-style="normal" textLength="46.0" lengthAdjust="spacingAndGlyphs">(41)</text>
<text x="1610.6" y="809.9" font-size="30.0" fill="#009639" text-anchor="middle" font-weight="bold" font-style="normal" textLength="16.7" lengthAdjust="spacingAndGlyphs">5</text>
<text x="1612.2" y="840.7" font-size="26.2" fill="#009639" text-anchor="middle" font-weight="bold" font-style="normal" textLength="46.0" lengthAdjust="spacingAndGlyphs">(51)</text>
<text x="1610.6" y="692.0" font-size="30.0" fill="#009639" text-anchor="middle" font-weight="bold" font-style="normal" textLength="16.7" lengthAdjust="spacingAndGlyphs">6</text>
<text x="1612.2" y="721.6" font-size="26.2" fill="#009639" text-anchor="middle" font-weight="bold" font-style="normal" textLength="46.0" lengthAdjust="spacingAndGlyphs">(61)</text>
<text x="1610.6" y="574.1" font-size="30.0" fill="#009639" text-anchor="middle" font-weight="bold" font-style="normal" textLength="16.7" lengthAdjust="spacingAndGlyphs">7</text>
<text x="1612.2" y="600.5" font-size="26.2" fill="#009639" text-anchor="middle" font-weight="bold" font-style="normal" textLength="46.0" lengthAdjust="spacingAndGlyphs">(71)</text>
<text x="1610.6" y="456.2" font-size="30.0" fill="#009639" text-anchor="middle" font-weight="bold" font-style="normal" textLength="16.7" lengthAdjust="spacingAndGlyphs">8</text>
<text x="1612.2" y="486.1" font-size="26.2" fill="#009639" text-anchor="middle" font-weight="bold" font-style="normal" textLength="46.0" lengthAdjust="spacingAndGlyphs">(82)</text>
<text x="288.8" y="455.7" font-size="26.2" fill="#7a8f1e" text-anchor="start" font-weight="normal" font-style="normal" textLength="78.5" lengthAdjust="spacingAndGlyphs">30 (51)</text>
<text x="404.2" y="484.7" font-size="26.2" fill="#7a8f1e" text-anchor="start" font-weight="normal" font-style="normal" textLength="93.0" lengthAdjust="spacingAndGlyphs">60 (102)</text>
<text x="544.4" y="584.7" font-size="26.2" fill="#7a8f1e" text-anchor="start" font-weight="normal" font-style="normal" textLength="93.0" lengthAdjust="spacingAndGlyphs">90 (153)</text>
<text x="720.0" y="685.0" font-size="26.2" fill="#7a8f1e" text-anchor="start" font-weight="normal" font-style="normal" textLength="108.0" lengthAdjust="spacingAndGlyphs">120 (204)</text>
<text x="883.3" y="805.0" font-size="26.2" fill="#7a8f1e" text-anchor="start" font-weight="normal" font-style="normal" textLength="107.0" lengthAdjust="spacingAndGlyphs">150 (255)</text>
<text x="898.5" y="517.5" font-size="25.4" fill="#7a8f1e" text-anchor="middle" font-weight="normal" font-style="normal" textLength="238.0" lengthAdjust="spacingAndGlyphs">AIR CONSUMPTION</text>
<text x="898.5" y="553.3" font-size="25.4" fill="#7a8f1e" text-anchor="middle" font-weight="normal" font-style="normal" textLength="184.0" lengthAdjust="spacingAndGlyphs">SCFM (Nm<tspan font-size="17" dy="-8">3</tspan><tspan dy="8">/hr)</tspan></text>
<g transform="translate(240.8 466.8) rotate(33.85)" font-size="28.0" font-weight="bold" font-style="italic">
<text x="0" y="0" fill="#03488a" textLength="105.8" lengthAdjust="spacingAndGlyphs">120 PSIG</text>
<text x="112.3" y="0" fill="#009639" textLength="111.7" lengthAdjust="spacingAndGlyphs">(8.3 BAR)</text>
</g>
<g transform="translate(243.0 627.8) rotate(25.40)" font-size="28.0" font-weight="bold" font-style="italic">
<text x="0" y="0" fill="#03488a" textLength="105.8" lengthAdjust="spacingAndGlyphs">100 PSIG</text>
<text x="112.3" y="0" fill="#009639" textLength="111.7" lengthAdjust="spacingAndGlyphs">(6.9 BAR)</text>
</g>
<g transform="translate(238.3 780.0) rotate(18.70)" font-size="28.0" font-weight="bold" font-style="italic">
<text x="0" y="0" fill="#03488a" textLength="91.1" lengthAdjust="spacingAndGlyphs">80 PSIG</text>
<text x="97.6" y="0" fill="#009639" textLength="111.7" lengthAdjust="spacingAndGlyphs">(5.5 BAR)</text>
</g>
<g transform="translate(240.0 943.3) rotate(14.70)" font-size="28.0" font-weight="bold" font-style="italic">
<text x="0" y="0" fill="#03488a" textLength="91.1" lengthAdjust="spacingAndGlyphs">60 PSIG</text>
<text x="97.6" y="0" fill="#009639" textLength="111.7" lengthAdjust="spacingAndGlyphs">(4.1 BAR)</text>
</g>
<g transform="translate(235.0 1098.3) rotate(5.20)" font-size="28.0" font-weight="bold" font-style="italic">
<text x="0" y="0" fill="#03488a" textLength="93.3" lengthAdjust="spacingAndGlyphs">40 PSIG</text>
<text x="99.8" y="0" fill="#009639" textLength="112.7" lengthAdjust="spacingAndGlyphs">(2.8 BAR)</text>
</g>
<g transform="translate(240.0 1266.7) rotate(3.70)" font-size="28.0" font-weight="bold" font-style="italic">
<text x="0" y="0" fill="#03488a" textLength="93.3" lengthAdjust="spacingAndGlyphs">20 PSIG</text>
<text x="99.8" y="0" fill="#009639" textLength="112.7" lengthAdjust="spacingAndGlyphs">(1.4 BAR)</text>
</g>
</svg>
</body>
</html>
